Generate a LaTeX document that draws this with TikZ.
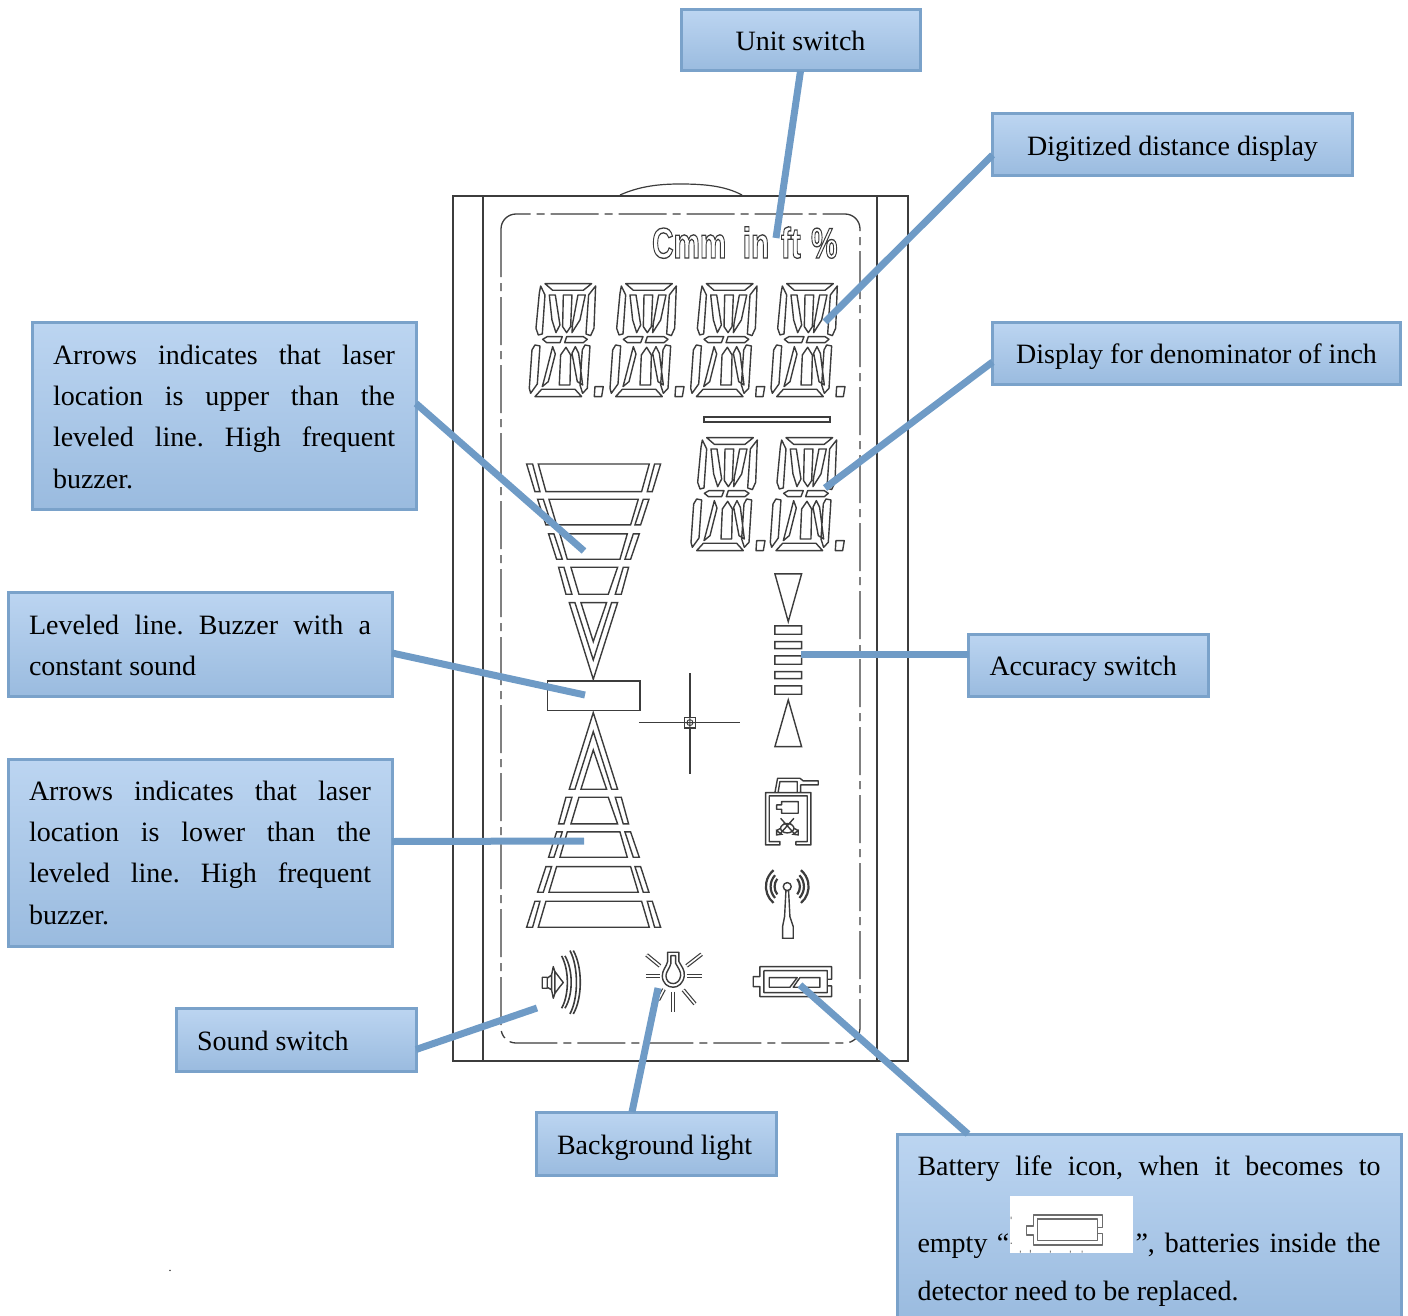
\documentclass[tikz,border=0pt]{standalone}
\usepackage{fontspec}
\setmainfont{Liberation Serif}
\newfontfamily\lcdfont{Liberation Sans}
\usetikzlibrary{calc}
\definecolor{boxtop}{HTML}{BCD5F1}
\definecolor{boxbot}{HTML}{9ABBDF}
\definecolor{boxline}{HTML}{7AA2CA}
\definecolor{wire}{HTML}{6F9BC6}
\definecolor{lcd}{HTML}{3C3C3C}
\newcommand{\jl}[2]{\makebox[#1pt][l]{#2}}
\newcommand{\tsp}{\spaceskip=7pt\relax}
\newcommand{\lcddigit}[2]{%
\begin{scope}[shift={(#1,#2)},x=.3333pt,y=-.3333pt,shift={(-88,-310)}]
\draw[lcdline,line join=round]
 (135,311)--(275,311)--(250,331)--(158,331)--cycle
 (122,318)--(135,345)--(127,462)--(115,465)--(108,445)--(118,340)--cycle
 (287,318)--(282,445)--(272,467)--(258,462)--(266,345)--cycle
 (148,345)--(166,345)--(180,435)--(168,458)--(156,420)--cycle
 (190,345)--(216,345)--(212,440)--(200,458)--(188,440)--cycle
 (234,345)--(256,345)--(240,420)--(216,458)--(218,430)--cycle
 (128,478)--(142,470)--(187,470)--(180,488)--(140,488)--cycle
 (200,470)--(250,470)--(262,478)--(250,488)--(194,488)--cycle
 (105,495)--(120,498)--(112,612)--(92,640)--(88,625)--(96,510)--cycle
 (158,500)--(166,522)--(145,605)--(127,620)--(135,590)--cycle
 (198,502)--(212,525)--(210,615)--(178,615)--(182,525)--cycle
 (226,500)--(236,520)--(248,615)--(232,605)--(216,520)--cycle
 (255,495)--(270,498)--(262,625)--(248,640)--(240,615)--(247,510)--cycle
 (105,650)--(245,650)--(225,628)--(125,628)--cycle
 (285,620)--(310,620)--(305,650)--(283,650)--cycle;
\end{scope}}
\tikzset{
  lcdline/.style={draw=lcd,line width=1.4pt},
  ray/.style={draw=lcd,line width=1.2pt,double=white,double distance=1.6pt},
  box/.style={rectangle,draw=boxline,line width=3pt,top color=boxtop,bottom color=boxbot,
    inner xsep=0pt,inner ysep=0pt,outer sep=0pt,text=black,text height=21pt,text depth=0pt,
    font=\fontsize{28}{41.4}\selectfont},
  wireline/.style={draw=wire,line width=7pt}
}
\begin{document}
\begin{tikzpicture}[x=1pt,y=-1pt]
\useasboundingbox (0,0) rectangle (1408,1316);
\clip (0,0) rectangle (1408,1316);
% ---- LCD housing
\draw[lcdline] (453,196) rectangle (908,1061);
\draw[lcdline] (483,196)--(483,1061) (877,196)--(877,1061);
\draw[lcdline,line width=1.2pt] (620,195) .. controls (640,186) and (660,184) .. (680,184) .. controls (705,184) and (725,186) .. (742,195);
\draw[lcdline,line width=1.3pt,dash pattern=on 48pt off 6pt on 8pt off 6pt,rounded corners=15pt] (501,214) rectangle (860,1043);
% ---- units
\node[font=\lcdfont\bfseries\fontsize{43}{43}\selectfont,xscale=.69,transform shape,inner sep=0pt,anchor=base west] (unitlabel) at (652,258)
 {\special{pdf:code q 1 Tr 1.3 w 0.23 G}Cmm\hspace{24pt}in\hspace{17pt}ft\hspace{15pt}\%\special{pdf:code 0 Tr Q}};
% ---- digits
\lcddigit{529.3}{283.3}\lcddigit{610}{283.3}\lcddigit{690.7}{283.3}\lcddigit{771}{283.3}
\lcddigit{691}{437.3}\lcddigit{770.3}{437.3}
\draw[lcdline] (704,417) rectangle (830,422);
% ---- zoom 2 region
\begin{scope}[x=.3333pt,y=-.3333pt,shift={(1530,1320)}]
\draw[lcdline]
 (85,72)--(418,72)--(395,155)--(108,155)--cycle
 (50,72)--(68,72)--(90,155)--(75,155)--cycle (452,72)--(434,72)--(412,155)--(427,155)--cycle
 (117,178)--(385,178)--(362,255)--(140,255)--cycle
 (83,178)--(100,178)--(125,255)--(108,255)--cycle (417,178)--(400,178)--(375,255)--(392,255)--cycle
 (150,282)--(352,282)--(330,358)--(172,358)--cycle
 (116,282)--(132,282)--(157,358)--(140,358)--cycle (388,282)--(370,282)--(345,358)--(362,358)--cycle
 (183,382)--(323,382)--(295,463)--(207,463)--cycle
 (146,382)--(162,382)--(186,463)--(168,463)--cycle (356,382)--(340,382)--(316,463)--(334,463)--cycle
 (213,488)--(290,488)--(250,605)--cycle
 (178,488)--(195,488)--(250,660)--(305,488)--(323,488)--(250,718)--cycle;
% level rectangle
\draw[lcdline] (112,723) rectangle (390,812);
% accuracy
\draw[lcdline] (795,402)--(875,402)--(835,545)--cycle
 (795,558) rectangle (875,583) (795,605) rectangle (875,626) (795,648) rectangle (875,673)
 (795,695) rectangle (875,716) (795,738) rectangle (875,763);
\end{scope}
% ---- zoom 3 region
\begin{scope}[x=.3333pt,y=-.3333pt,shift={(1530,2100)}]
\draw[lcdline]
 (213,268)--(290,268)--(250,150)--cycle
 (178,268)--(195,268)--(250,95)--(305,268)--(323,268)--(250,38)--cycle
 (207,292)--(295,292)--(323,372)--(183,372)--cycle
 (168,292)--(186,292)--(162,372)--(146,372)--cycle (334,292)--(316,292)--(340,372)--(356,372)--cycle
 (172,396)--(330,396)--(352,472)--(150,472)--cycle
 (140,396)--(157,396)--(132,472)--(116,472)--cycle (362,396)--(345,396)--(370,472)--(388,472)--cycle
 (140,500)--(362,500)--(385,577)--(117,577)--cycle
 (108,500)--(125,500)--(100,577)--(83,577)--cycle (392,500)--(375,500)--(400,577)--(417,577)--cycle
 (108,604)--(395,604)--(418,682)--(85,682)--cycle
 (75,604)--(90,604)--(68,682)--(50,682)--cycle (427,604)--(412,604)--(434,682)--(452,682)--cycle;
% crosshair
\draw[lcdline] (540,-80)--(540,222) (387,68)--(690,68);
\draw[lcdline,fill=white] (524,52) rectangle (556,84);
\draw[lcdline,line width=.9pt] (540,68) circle (9) (524,68)--(556,68) (540,52)--(540,84);
% accuracy up triangle
\draw[lcdline] (795,140)--(875,140)--(835,0)--cycle;
% laser icon
\draw[lcdline,line join=round]
 (767,435)--(767,278)--(795,278)--(803,235)--(870,235)--(880,243)--(925,243)--(925,255)--(872,255)--(872,278)--(903,278)--(903,435)--(858,435)--(858,425)--(892,425)--(892,288)--(778,288)--(778,425)--(810,425)--(810,435)--cycle
 (795,278)--(872,278) (805,275)--(810,245)--(862,245)--(862,275)
 (815,305)--(865,305)--(865,340)--(815,340)--(815,328)--(800,328)--(800,315)--(815,315)--cycle;
\draw[lcdline,line width=1.4pt] (832,385) ellipse (20 and 14)
 (812,355)--(852,400) (852,355)--(812,400) (800,392)--(815,403)--(800,405)--cycle (865,392)--(850,403)--(865,405)--cycle
 (820,372)--(844,372) (812,385)--(800,392) (852,385)--(865,392);
% antenna
\draw[lcdline] (832,560) circle (12)
 (828,572)--(836,572)--(840,650)--(850,680)--(850,715)--(818,715)--(818,680)--(824,650)--cycle;
\draw[lcdline,line width=2.2pt]
 (832,560)++(142:38) arc[start angle=142,end angle=218,radius=38]
 (832,560)++(137:50) arc[start angle=137,end angle=223,radius=50]
 (832,560)++(130:64) arc[start angle=130,end angle=230,radius=64]
 (832,560)++(38:38) arc[start angle=38,end angle=-38,radius=38]
 (832,560)++(43:50) arc[start angle=43,end angle=-43,radius=50]
 (832,560)++(50:64) arc[start angle=50,end angle=-50,radius=64];
% speaker
\draw[lcdline,line join=round] (97,832)--(112,832)--(112,865)--(97,865)--cycle
 (112,835)--(125,825)--(130,800)--(135,815)--(150,835)--(160,848)--(150,860)--(135,880)--(130,895)--(125,870)--(112,862)
 (125,825)--(125,870) (135,815)--(135,880);
\draw[lcdline,line width=1.6pt] (155,768) .. controls (178,810) and (178,885) .. (155,925)
 (165,768) .. controls (190,810) and (190,885) .. (165,925)
 (180,752) .. controls (206,800) and (206,895) .. (180,942)
 (190,752) .. controls (218,800) and (218,895) .. (190,942);
% bulb
\draw[lcdline,line join=round]
 (473,757)--(507,757)--(507,785) .. controls (515,800) and (525,810) .. (523,828) .. controls (520,850) and (505,862) .. (490,862) .. controls (472,862) and (458,850) .. (457,828) .. controls (457,810) and (470,800) .. (473,785)--cycle
 (483,767)--(497,767)--(497,790) .. controls (505,805) and (514,815) .. (512,828) .. controls (510,843) and (500,851) .. (490,851) .. controls (478,851) and (469,843) .. (468,828) .. controls (468,815) and (480,805) .. (483,790)--cycle;
\draw[ray] (408,828)--(450,828);
\draw[ray] (530,828)--(575,828);
\draw[ray] (490,875)--(490,935);
\draw[ray] (410,765)--(450,798);
\draw[ray] (575,763)--(530,798);
\draw[ray] (520,870)--(555,912);
\draw[ray] (462,868)--(445,900);
% battery
\draw[lcdline,line join=round]
 (750,800)--(965,800)--(965,838)--(952,838)--(952,858)--(965,858)--(965,890)--(750,890)--(750,860)--(730,860)--(730,830)--(750,830)--cycle
 (762,812)--(952,812)--(952,838) (952,858)--(952,878)--(762,878)--(762,812)
 (778,833)--(862,833)--(840,862)--(778,862)--cycle
 (870,833)--(930,833)--(930,862)--(850,862)--cycle;
\end{scope}
% ---- named wire targets
\coordinate (unitT) at (776,238);
\coordinate (digitT) at (825,322);
\coordinate (denomT) at (825,488);
\coordinate (upT) at (584,551);
\coordinate (levelT) at (585,695);
\coordinate (lowT) at (584,841);
\coordinate (accT) at (801,654);
\coordinate (soundT) at (537,1008);
\coordinate (bgT) at (658,988);
\coordinate (batT) at (800,985);
% ---- boxes
\node[box,minimum width=239pt,minimum height=61pt,align=center] (unit) at (800.5,40.5) {Unit switch};
\node[box,minimum width=360pt,minimum height=62pt,align=center] (digit) at (1172.5,145) {Digitized distance display};
\node[box,minimum width=408pt,minimum height=62pt,align=center] (denom) at (1196.5,353) {Display for denominator of inch};
\node[box,minimum width=240pt,minimum height=62pt,text width=198pt,align=left] (acc) at (1088.5,665) {\tsp Accuracy switch};
\node[box,minimum width=384pt,minimum height=187pt,text width=342pt,align=left,text height=0pt,text depth=103pt] (up) at (224,415.5)
 {\jl{342}{Arrows\hfill indicates\hfill that\hfill laser}\\\jl{342}{location\hfill is\hfill upper\hfill than\hfill the}\\\jl{342}{leveled\hfill line.\hfill High\hfill frequent}\\buzzer.};
\node[box,minimum width=384pt,minimum height=104pt,text width=342pt,align=left,text height=0pt,text depth=20pt] (level) at (200,644)
 {\jl{342}{Leveled\hfill line.\hfill Buzzer\hfill with\hfill a}\\\tsp constant sound};
\node[box,minimum width=384pt,minimum height=187pt,text width=342pt,align=left,text height=0pt,text depth=105pt] (low) at (200,852.5)
 {\jl{342}{Arrows\hfill indicates\hfill that\hfill laser}\\\jl{342}{location\hfill is\hfill lower\hfill than\hfill the}\\\jl{342}{leveled\hfill line.\hfill High\hfill frequent}\\buzzer.};
\node[box,minimum width=240pt,minimum height=63pt,text width=198pt,align=left] (sound) at (296,1039.5) {\tsp Sound switch};
\node[box,minimum width=240pt,minimum height=63pt,text width=198pt,align=left] (bglight) at (656,1143.5) {\tsp Background light};
\node[box,minimum width=504pt,minimum height=186pt,text width=463pt,align=left,text height=0pt,text depth=104pt] (bat) at (1149,1227)
 {\jl{463}{Battery\hfill life\hfill icon,\hfill when\hfill it\hfill becomes\hfill to}\\[35.6pt]\jl{463}{\rlap{empty “}\hspace{218pt}\jl{245}{”,\hfill batteries\hfill inside\hfill the}}\\[6.6pt]\tsp detector need to be replaced.};
% ---- wires
\draw[wireline] (unit.south) -- (unitT);
\draw[wireline] ([yshift=-10pt]digit.west) -- (digitT);
\draw[wireline] ([yshift=-9pt]denom.west) -- (denomT);
\draw[wireline] ([yshift=12pt]up.east) -- (upT);
\draw[wireline] ([yshift=-9pt]level.east) -- (levelT);
\draw[wireline] ([yshift=11pt]low.east) -- (lowT);
\draw[wireline] ([yshift=11pt]acc.west) -- (accT);
\draw[wireline] ([yshift=-10pt]sound.east) -- (soundT);
\draw[wireline] ([xshift=-24pt]bglight.north) -- (bgT);
\draw[wireline] ([xshift=-181pt]bat.north) -- (batT);
% ---- empty battery picture inside the text
\fill[white] (1010,1196) rectangle (1133,1253);
\begin{scope}[x=.3333pt,y=-.3333pt,shift={(2670,3360)}]
\draw[draw=gray!85!black,line width=1.4pt,line join=round]
 (430,285)--(637,285)--(637,322)--(622,322)--(622,340)--(637,340)--(637,375)--(430,375)--(430,345)--(410,345)--(410,318)--(430,318)--cycle
 (442,297)--(622,297)--(622,322) (622,340)--(622,362)--(442,362)--(442,297);
\fill[gray] (362,290) rectangle (365,298) (362,368) rectangle (366,372) (390,392) rectangle (393,398) (420,390) rectangle (423,398) (480,392) rectangle (483,398) (540,392) rectangle (543,398) (575,392) rectangle (578,398);
\end{scope}
\node[inner sep=0pt,font=\fontsize{12}{12}\selectfont] (speck) at (170,1271) {.};
\end{tikzpicture}
\end{document}
